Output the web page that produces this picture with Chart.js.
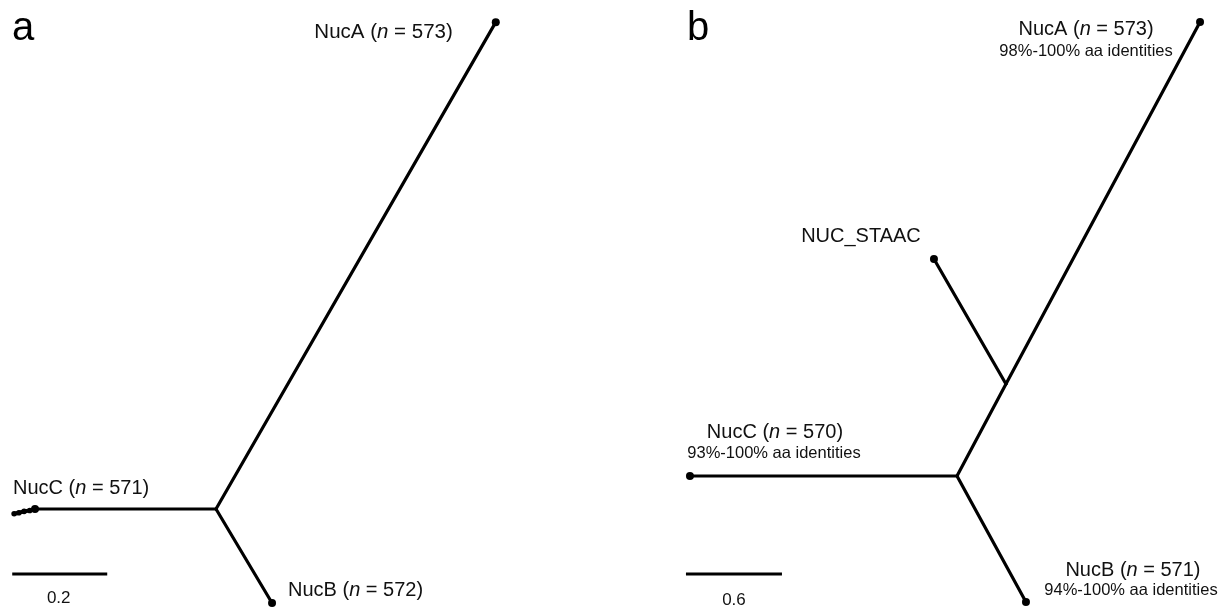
<!DOCTYPE html>
<html>
<head>
<meta charset="utf-8">
<script src="https://cdn.jsdelivr.net/npm/chart.js@4.4.1/dist/chart.umd.min.js"></script>
<style>
  html, body { margin: 0; padding: 0; background: #fff; }
  #wrap { position: relative; width: 1221px; height: 609px; }
  canvas { position: absolute; top: 0; }
  #treeA { left: 0; }
  #treeB { left: 610px; }
</style>
</head>
<body>
<div id="wrap">
  <canvas id="treeA" width="610" height="609"></canvas>
  <canvas id="treeB" width="611" height="609"></canvas>
</div>
<script>
/* ── Dữ liệu cây (đơn vị độ dài nhánh, nút trung tâm = 0,0) ── */

// panel a
const aNames  = ['NucA', 'NucB', 'NucC'];
const aCounts = [573, 572, 571];
const aTipX   = [0.589, 0.118, -0.381];
const aTipY   = [1.025, -0.198, 0.0];
// cụm lá rải rác ở đầu NucC
const aLeafX  = [-0.381, -0.392, -0.404, -0.415, -0.425];
const aLeafY  = [0.0, -0.003, -0.005, -0.008, -0.010];
const aScaleBar = 0.2;

// panel b
const bNames    = ['NucA', 'NUC_STAAC', 'NucB', 'NucC'];
const bCounts   = [573, null, 571, 570];
const bIdentity = ['98%-100%', null, '94%-100%', '93%-100%'];
const bTipX     = [1.519, -0.144, 0.431, -1.669];
const bTipY     = [2.838, 1.356, -0.788, 0.0];
const bParent   = ['inner', 'inner', 'root', 'root'];
const bInner    = [0.306, 0.575];
const bScaleBar = 0.6;

const FONT = '"Liberation Sans", Arial, Helvetica, sans-serif';

function drawRich(ctx, parts, x, y, align, size) {
  const fonts = parts.map(p => (p[1] ? 'italic ' : '') + size + 'px ' + FONT);
  const widths = parts.map((p, i) => { ctx.font = fonts[i]; return ctx.measureText(p[0]).width; });
  const total = widths.reduce((s, w) => s + w, 0);
  let sx = align === 'center' ? x - total / 2 : align === 'right' ? x - total : x;
  ctx.textAlign = 'left';
  ctx.textBaseline = 'middle';
  ctx.fillStyle = '#111';
  parts.forEach((p, i) => { ctx.font = fonts[i]; ctx.fillText(p[0], sx, y); sx += widths[i]; });
}

function nameParts(name, n) {
  if (n == null) return [[name, false]];
  return [[name + ' (', false], ['n', true], [' = ' + n + ')', false]];
}

function branch(x0, y0, x1, y1) {
  return {
    data: [{ x: x0, y: y0 }, { x: x1, y: y1 }],
    showLine: true, borderColor: '#000', borderWidth: 3.2, borderCapStyle: 'round',
    pointRadius: [0, 4], pointBackgroundColor: '#000', pointBorderWidth: 0,
  };
}

function scaleBarSet(x0, y0, len) {
  return {
    data: [{ x: x0, y: y0 }, { x: x0 + len, y: y0 }],
    showLine: true, borderColor: '#000', borderWidth: 3, pointRadius: 0,
  };
}

function baseOptions(pxPerUnit, cx, cy, w, h) {
  return {
    responsive: false,
    animation: false,
    clip: false,
    layout: { padding: 0, autoPadding: false },
    plugins: { legend: { display: false }, tooltip: { enabled: false } },
    scales: {
      x: { type: 'linear', display: false, min: -cx / pxPerUnit, max: (w - cx) / pxPerUnit },
      y: { type: 'linear', display: false, min: -(h - cy) / pxPerUnit, max: cy / pxPerUnit },
    },
  };
}

/* ── Cây a ── */
const setsA = aNames.map((_, i) => branch(0, 0, aTipX[i], aTipY[i]));
setsA.push({
  data: aLeafX.map((x, i) => ({ x, y: aLeafY[i] })),
  showLine: true, borderColor: '#000', borderWidth: 4, pointRadius: 2.8,
  pointBackgroundColor: '#000', pointBorderWidth: 0,
});
const barA = { x: -0.429, y: -0.137 };
setsA.push(scaleBarSet(barA.x, barA.y, aScaleBar));

const labelsA = {
  id: 'labelsA',
  afterDraw(chart) {
    const { ctx, scales: { x, y } } = chart;
    const px = i => x.getPixelForValue(aTipX[i]);
    const py = i => y.getPixelForValue(aTipY[i]);
    ctx.save();
    ctx.font = '40px ' + FONT; ctx.fillStyle = '#000'; ctx.textBaseline = 'alphabetic';
    ctx.fillText('a', 12, 40);
    drawRich(ctx, nameParts(aNames[0], aCounts[0]), px(0) - 43, py(0) + 10, 'right', 20.5);
    drawRich(ctx, nameParts(aNames[1], aCounts[1]), px(1) + 16, py(1) - 13, 'left', 20);
    drawRich(ctx, nameParts(aNames[2], aCounts[2]), px(2) - 22, py(2) - 21, 'left', 20);
    const bx = x.getPixelForValue(barA.x + aScaleBar / 2);
    drawRich(ctx, [[String(aScaleBar), false]], bx - 1, y.getPixelForValue(barA.y) + 24, 'center', 17);
    ctx.restore();
  },
};

new Chart(document.getElementById('treeA'), {
  type: 'scatter',
  data: { datasets: setsA },
  options: baseOptions(475, 216, 509, 610, 609),
  plugins: [labelsA],
});

/* ── Cây b ── */
const setsB = [branch(0, 0, bInner[0], bInner[1])];
setsB[0].pointRadius = 0;
bNames.forEach((_, i) => {
  const p = bParent[i] === 'inner' ? bInner : [0, 0];
  setsB.push(branch(p[0], p[1], bTipX[i], bTipY[i]));
});
const barB = { x: -1.694, y: -0.613 };
setsB.push(scaleBarSet(barB.x, barB.y, bScaleBar));

const labelsB = {
  id: 'labelsB',
  afterDraw(chart) {
    const { ctx, scales: { x, y } } = chart;
    const px = i => x.getPixelForValue(bTipX[i]);
    const py = i => y.getPixelForValue(bTipY[i]);
    const idText = i => [[bIdentity[i] + ' aa identities', false]];
    ctx.save();
    ctx.font = '40px ' + FONT; ctx.fillStyle = '#000'; ctx.textBaseline = 'alphabetic';
    ctx.fillText('b', 77, 40);
    // NucA
    drawRich(ctx, nameParts(bNames[0], bCounts[0]), px(0) - 114, py(0) + 8, 'center', 20);
    drawRich(ctx, idText(0), px(0) - 114, py(0) + 30, 'center', 16.5);
    // NUC_STAAC
    drawRich(ctx, nameParts(bNames[1], bCounts[1]), px(1) - 73, py(1) - 23, 'center', 20);
    // NucB
    drawRich(ctx, nameParts(bNames[2], bCounts[2]), px(2) + 107, py(2) - 32, 'center', 20);
    drawRich(ctx, idText(2), px(2) + 105, py(2) - 12, 'center', 16.5);
    // NucC
    drawRich(ctx, nameParts(bNames[3], bCounts[3]), px(3) + 85, py(3) - 44, 'center', 20);
    drawRich(ctx, idText(3), px(3) + 84, py(3) - 23, 'center', 16.5);
    const bx = x.getPixelForValue(barB.x + bScaleBar / 2);
    drawRich(ctx, [[String(bScaleBar), false]], bx, y.getPixelForValue(barB.y) + 26, 'center', 17);
    ctx.restore();
  },
};

new Chart(document.getElementById('treeB'), {
  type: 'scatter',
  data: { datasets: setsB },
  options: baseOptions(160, 347, 476, 611, 609),
  plugins: [labelsB],
});
</script>
</body>
</html>
